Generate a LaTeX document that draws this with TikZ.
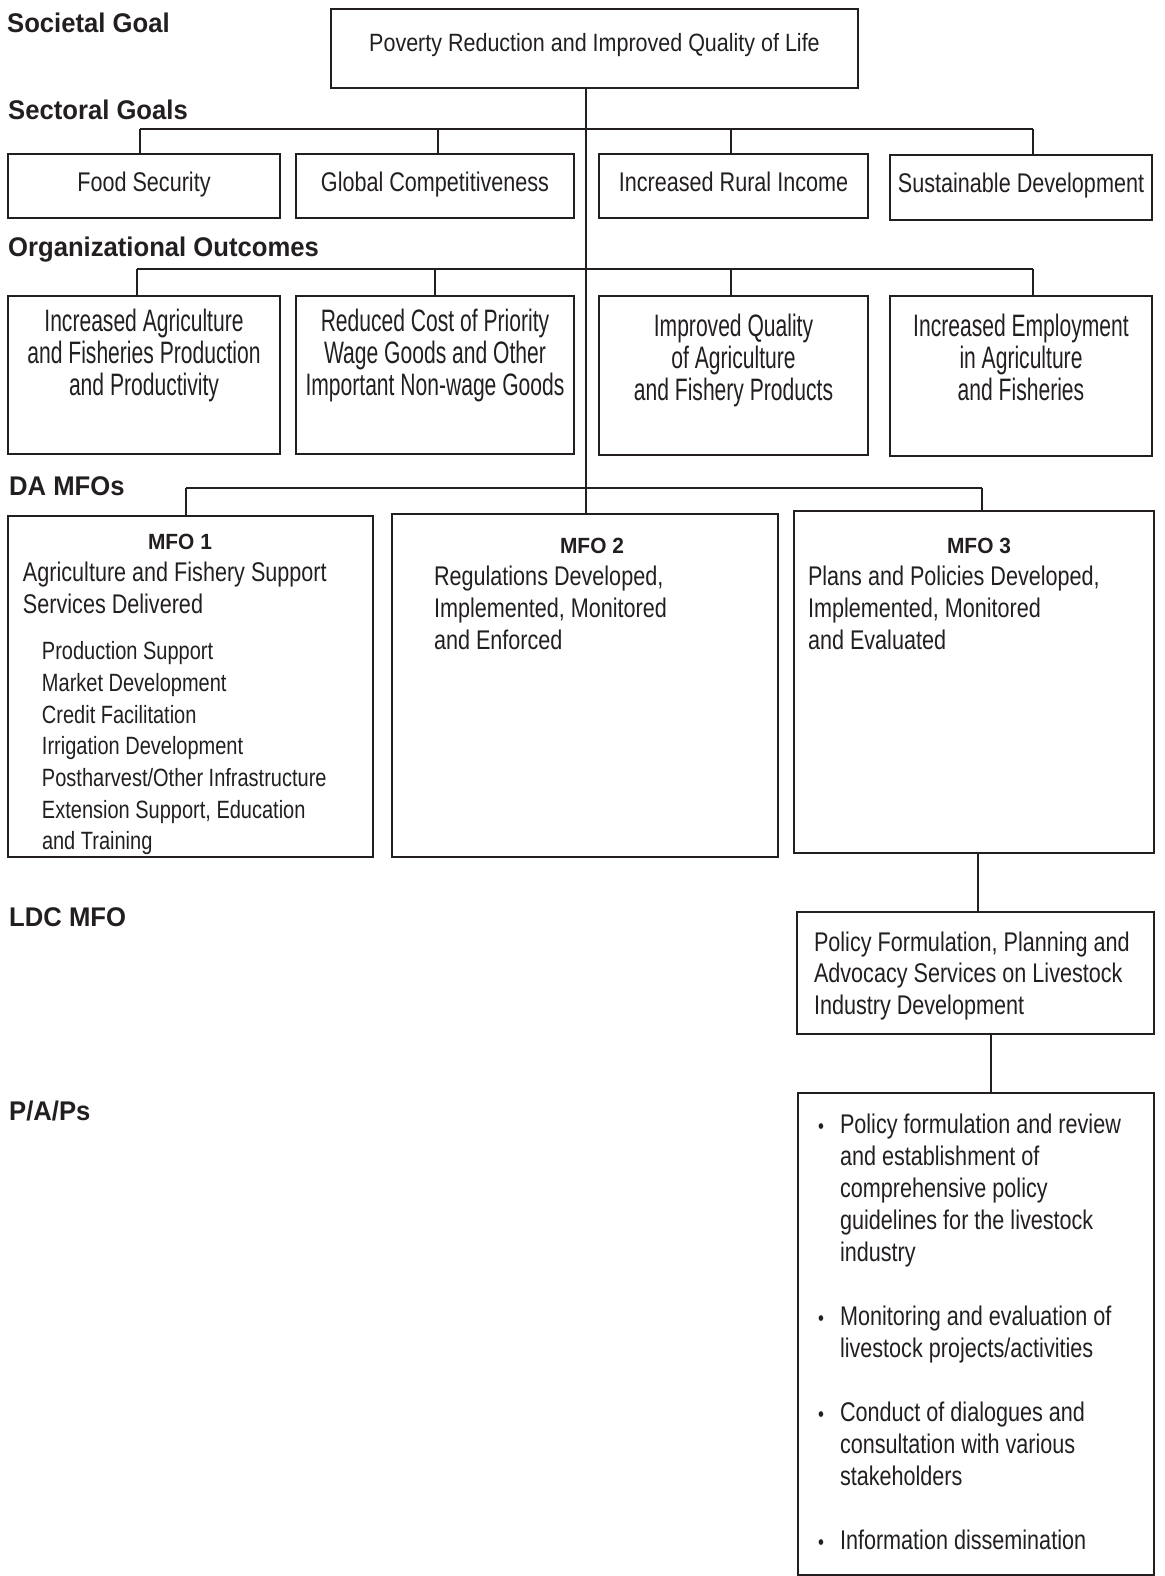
\documentclass[tikz,border=0pt]{standalone}
\usepackage{fontspec}
\setmainfont{Liberation Sans}
\usetikzlibrary{positioning,calc}
\definecolor{ink}{RGB}{35,31,32}

\newfontfamily\headfam[FakeStretch=0.95]{Liberation Sans}
\newfontfamily\goalfam[FakeStretch=0.86]{Liberation Sans}
\newfontfamily\narrowfam[FakeStretch=0.80]{Liberation Sans}
\newfontfamily\oofam[FakeStretch=0.68]{Liberation Sans}

\newcommand{\headtxt}{\headfam\bfseries\fontsize{27}{30}\selectfont}
\newcommand{\goaltxt}{\goalfam\fontsize{25}{30}\selectfont}
\newcommand{\sectxt}{\narrowfam\fontsize{27}{30}\selectfont}
\newcommand{\ootxt}{\oofam\fontsize{31}{32}\selectfont\lineskiplimit=-20pt\relax}
\newcommand{\mfohead}{\headfam\bfseries\fontsize{22}{26}\selectfont}
\newcommand{\mfobody}{\narrowfam\fontsize{27}{32}\selectfont}
\newcommand{\mfolist}{\narrowfam\fontsize{25}{31.7}\selectfont}
\newcommand{\ldctxt}{\narrowfam\fontsize{27}{31.5}\selectfont}
\newcommand{\boxtext}[3]{\parbox[t][#2][t]{#1}{#3}}
\newcommand{\papitem}{\leavevmode\llap{{\fontsize{21}{21}\selectfont\textbullet}\hspace{16pt}}}

\begin{document}
\begin{tikzpicture}[x=1pt, y=-1pt,
    box/.style={draw=ink, line width=2pt, inner sep=0pt, anchor=north west, text=ink},
    secbox/.style={box, minimum height=64pt, font=\sectxt, text height=20pt, text depth=10pt},
    link/.style={draw=ink, line width=2pt},
    head/.style={anchor=base west, inner sep=0pt, text=ink, font=\headtxt}]
\useasboundingbox (0,0) rectangle (1164,1576);

% Level titles
\node[head] (lsoc) at (7,33) {Societal Goal};
\node[head] (lsec) at (8,120) {Sectoral Goals};
\node[head] (lorg) at (8,256) {Organizational Outcomes};
\node[head] (lda) at (9,495) {DA MFOs};
\node[head] (lldc) at (9,926) {LDC MFO};
\node[head] (lpap) at (9,1120) {P/A/Ps};

% Societal goal
\node[box, minimum width=527pt, minimum height=79pt, font=\goaltxt, text height=18.5pt, text depth=13pt] (goal) at (330,8) {Poverty Reduction and Improved Quality of Life};

% Sectoral goals
\node[secbox, minimum width=272pt] (fs) at (7,153) {Food Security};
\node[secbox, minimum width=278pt] (gc) at (295,153) {Global Competitiveness};
\node[secbox, minimum width=269pt] (iri) at (598,153) {Increased Rural Income};
\node[secbox, minimum width=262pt, minimum height=65pt] (sd) at (889,154) {Sustainable Development};

% Organizational outcomes
\node[box] (agri) at (7,295) {\boxtext{272pt}{158pt}{\ootxt\centering\rule{0pt}{35pt}Increased Agriculture\\and Fisheries Production\\and Productivity}};
\node[box] (cost) at (295,295) {\boxtext{278pt}{158pt}{\ootxt\centering\rule{0pt}{35pt}Reduced Cost of Priority\\Wage Goods and Other\\Important Non-wage Goods}};
\node[box] (qual) at (598,295) {\boxtext{269pt}{159pt}{\ootxt\centering\rule{0pt}{40pt}Improved Quality\\of Agriculture\\and Fishery Products}};
\node[box] (empl) at (889,295) {\boxtext{262pt}{160pt}{\ootxt\centering\rule{0pt}{40pt}Increased Employment\\in Agriculture\\and Fisheries}};

% DA MFOs
\node[box] (mfo1) at (7,515) {\boxtext{365pt}{341pt}{\raggedright\leftskip=15pt\relax
  \mfobody\rule{0pt}{33pt}\makebox[314pt]{\mfohead MFO 1}\\
  Agriculture and Fishery Support\\
  Services Delivered\par
  \vspace{15pt}\leftskip=34pt\relax\mfolist
  Production Support\\
  Market Development\\
  Credit Facilitation\\
  Irrigation Development\\
  Postharvest/Other Infrastructure\\
  Extension Support, Education\\
  and Training}};
\node[box] (mfo2) at (391,513) {\boxtext{386pt}{343pt}{\raggedright\leftskip=42pt\relax
  \mfobody\rule{0pt}{39pt}\makebox[316pt]{\mfohead MFO 2}\\
  Regulations Developed,\\
  Implemented, Monitored\\
  and Enforced}};
\node[box] (mfo3) at (793,510) {\boxtext{360pt}{342pt}{\raggedright\leftskip=14pt\relax
  \mfobody\rule{0pt}{42pt}\makebox[342pt]{\mfohead MFO 3}\\
  Plans and Policies Developed,\\
  Implemented, Monitored\\
  and Evaluated}};

% LDC MFO
\node[box] (ldc) at (796,911) {\boxtext{357pt}{122pt}{\raggedright\leftskip=17pt\relax
  \ldctxt\rule{0pt}{39pt}Policy Formulation, Planning and\\
  Advocacy Services on Livestock\\
  Industry Development}};

% P/A/Ps
\node[box] (pap) at (797,1092) {\boxtext{356pt}{482pt}{\raggedright\leftskip=42pt\relax\mfobody
  \rule{0pt}{40pt}\papitem Policy formulation and review\\
  and establishment of\\
  comprehensive policy\\
  guidelines for the livestock\\
  industry\par
  \vspace{32pt}\papitem Monitoring and evaluation of\\
  livestock projects/activities\par
  \vspace{32pt}\papitem Conduct of dialogues and\\
  consultation with various\\
  stakeholders\par
  \vspace{32pt}\papitem Information dissemination}};

% Connectors
\coordinate (sg1) at (140,129);
\coordinate (sg2) at (438,129);
\coordinate (sg3) at (731,129);
\coordinate (sg4) at (1033,129);
\coordinate (oc1) at (137,269);
\coordinate (oc2) at (435,269);
\coordinate (oc3) at (731,269);
\coordinate (oc4) at (1033,269);
\coordinate (mb1) at (186,488);
\coordinate (mb2) at (586,488);
\coordinate (mb3) at (982,488);
\coordinate (ml) at (978,880);
\coordinate (lp) at (991,1060);

\draw[link] (goal.south -| mb2) -- (mfo2.north -| mb2);
\draw[link] (sg1) -- (sg4);
\foreach \c/\b in {sg1/fs, sg2/gc, sg3/iri, sg4/sd}
  \draw[link] (\c) -- (\c |- \b.north);
\draw[link] (oc1) -- (oc4);
\foreach \c/\b in {oc1/agri, oc2/cost, oc3/qual, oc4/empl}
  \draw[link] (\c) -- (\c |- \b.north);
\draw[link] (mb1) -- (mb3);
\foreach \c/\b in {mb1/mfo1, mb3/mfo3}
  \draw[link] (\c) -- (\c |- \b.north);
\draw[link] (mfo3.south -| ml) -- (ldc.north -| ml);
\draw[link] (ldc.south -| lp) -- (pap.north -| lp);
\end{tikzpicture}
\end{document}
